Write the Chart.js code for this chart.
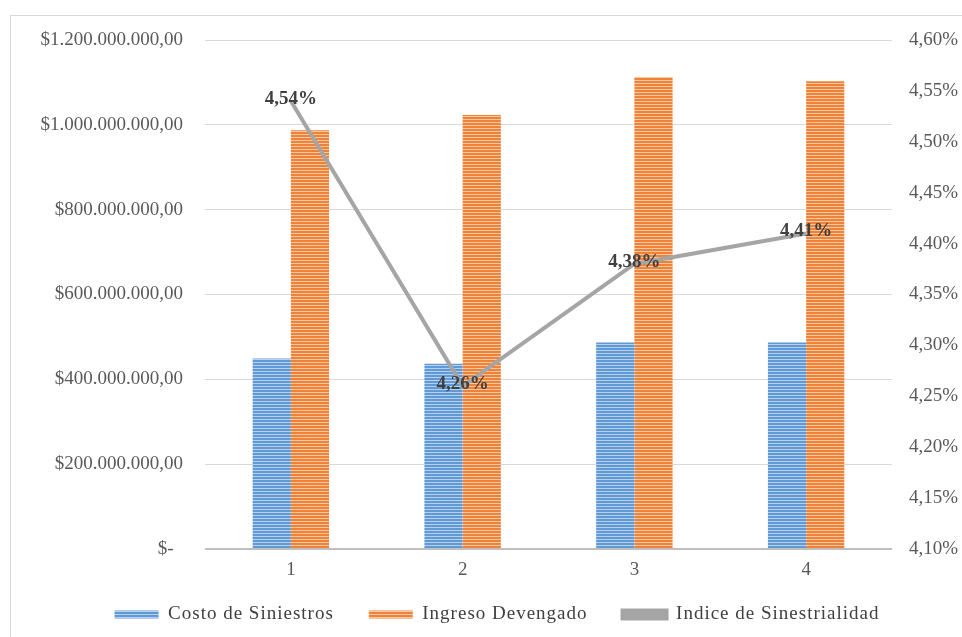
<!DOCTYPE html>
<html>
<head>
<meta charset="utf-8">
<script src="https://cdn.jsdelivr.net/npm/chart.js@4.4.0/dist/chart.umd.min.js"></script>
<style>
  html, body { margin: 0; padding: 0; background: #fff; overflow: hidden; }
  #frame { position: absolute; left: 10px; top: 15px; width: 980px; height: 660px; border: 1px solid #d9d9d9; }
  #wrap { position: absolute; left: 0; top: 0; width: 962px; height: 637px; }
</style>
</head>
<body>
<div id="frame"></div>
<div id="wrap"><canvas id="chart" width="962" height="637"></canvas></div>
<script>
const categories = ['1', '2', '3', '4'];
const costoSiniestros = [449000000, 437000000, 487000000, 487000000];
const ingresoDevengado = [987000000, 1023000000, 1113000000, 1103000000];
const indiceSinestralidad = [4.54, 4.26, 4.38, 4.41];

const seriesNames = ['Costo de Siniestros', 'Ingreso Devengado', 'Indice de Sinestrialidad'];

// striped fill like the excel pattern
const stripes = (dark, light) => {
  const c = document.createElement('canvas');
  c.width = 4;
  c.height = 3;
  const g = c.getContext('2d');
  g.fillStyle = dark;
  g.fillRect(0, 0, 4, 3);
  g.fillStyle = light;
  g.fillRect(0, 2, 4, 1);
  return g.createPattern(c, 'repeat');
};

const bluePattern = stripes('#5f9ad6', '#b7d0ee');
const orangePattern = stripes('#ef8236', '#f9c9a5');

const fmtMoney = (v) => {
  if (v === 0) return '$-  ';
  return '$' + Math.round(v).toString().replace(/\B(?=(\d{3})+(?!\d))/g, '.') + ',00';
};
const fmtPct = (v) => v.toFixed(2).replace('.', ',') + '%';

const lineLabels = {
  id: 'lineLabels',
  afterDatasetsDraw(chart) {
    const meta = chart.getDatasetMeta(2);
    const ctx = chart.ctx;
    ctx.save();
    ctx.font = 'bold 19px "Liberation Serif"';
    ctx.fillStyle = '#404040';
    ctx.textAlign = 'center';
    ctx.textBaseline = 'middle';
    meta.data.forEach((pt, i) => {
      ctx.fillText(fmtPct(indiceSinestralidad[i]), pt.x, pt.y - 2);
    });
    ctx.restore();
  }
};

// legend text in the reference is spaced out a bit and sits a little right of centre
const spacedLegend = {
  id: 'spacedLegend',
  beforeLayout(chart) {
    const lg = chart.legend;
    if (!lg || lg._spaced) return;
    lg._spaced = true;
    const fit = lg.fit.bind(lg);
    const draw = lg.draw.bind(lg);
    lg.fit = function () { this.ctx.letterSpacing = '1px'; fit(); this.ctx.letterSpacing = '0px'; };
    lg.draw = function () {
      this.ctx.save();
      this.ctx.translate(16, 0);
      this.ctx.letterSpacing = '1px';
      draw();
      this.ctx.letterSpacing = '0px';
      this.ctx.restore();
    };
  }
};

const tickFont = { family: 'Liberation Serif', size: 19 };

new Chart(document.getElementById('chart'), {
  type: 'bar',
  data: {
    labels: categories,
    datasets: [{
      label: seriesNames[0],
      data: costoSiniestros,
      backgroundColor: bluePattern,
      borderWidth: 0,
      yAxisID: 'y',
      order: 1,
      categoryPercentage: 0.445,
      barPercentage: 1
    }, {
      label: seriesNames[1],
      data: ingresoDevengado,
      backgroundColor: orangePattern,
      borderWidth: 0,
      yAxisID: 'y',
      order: 2,
      categoryPercentage: 0.445,
      barPercentage: 1
    }, {
      type: 'line',
      label: seriesNames[2],
      data: indiceSinestralidad,
      borderColor: '#a5a5a5',
      backgroundColor: '#a5a5a5',
      borderWidth: 4,
      pointRadius: 0,
      tension: 0,
      yAxisID: 'y1',
      order: 0
    }]
  },
  options: {
    responsive: false,
    animation: false,
    layout: { padding: { top: 40, left: 0, right: 0, bottom: 3 } },
    plugins: {
      tooltip: { enabled: false },
      legend: {
        position: 'bottom',
        labels: {
          sort: (a, b) => a.datasetIndex - b.datasetIndex,
          generateLabels: (chart) => {
            const items = Chart.defaults.plugins.legend.labels.generateLabels(chart);
            items.forEach((it) => { if (it.datasetIndex < 2) it.text += '    '; });
            return items;
          },
          boxWidth: 44,
          boxHeight: 8,
          padding: 12,
          color: '#404040',
          font: tickFont
        }
      }
    },
    scales: {
      x: {
        grid: { display: false },
        border: { display: false },
        ticks: { color: '#595959', font: tickFont, padding: 2 },
        afterFit: (s) => { s.height = 44; }
      },
      y: {
        position: 'left',
        min: 0,
        max: 1200000000,
        border: { display: false },
        grid: {
          drawTicks: false,
          color: (c) => c.tick && c.tick.value === 0 ? '#bfbfbf' : '#d9d9d9',
          lineWidth: (c) => c.tick && c.tick.value === 0 ? 2 : 1
        },
        ticks: {
          stepSize: 200000000,
          color: '#595959',
          font: tickFont,
          padding: 22,
          callback: (v) => fmtMoney(v)
        },
        afterFit: (s) => { s.width = 205; }
      },
      y1: {
        position: 'right',
        min: 4.10,
        max: 4.60,
        border: { display: false },
        grid: { display: false, drawTicks: false },
        ticks: {
          stepSize: 0.05,
          color: '#595959',
          font: tickFont,
          padding: 17,
          callback: (v) => fmtPct(v)
        },
        afterFit: (s) => { s.width = 70; }
      }
    }
  },
  plugins: [lineLabels, spacedLegend]
});
</script>
</body>
</html>
